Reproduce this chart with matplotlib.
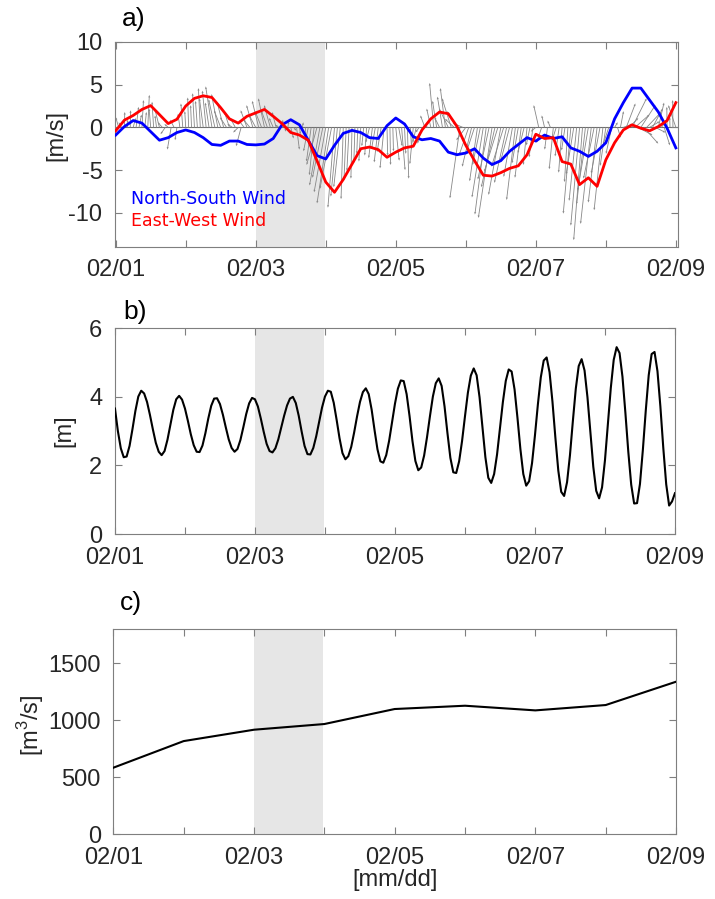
import numpy as np
import matplotlib
matplotlib.use("Agg")
import matplotlib.pyplot as plt

plt.rcParams["font.family"] = ["Liberation Sans", "DejaVu Sans"]
plt.rcParams["axes.unicode_minus"] = False

# ---------------------------------------------------------------------------
# data (day offsets from 02/01 00:00)
# ---------------------------------------------------------------------------
day_ticks = [0, 1, 2, 3, 4, 5, 6, 7, 8]
day_labels = ["02/01", "", "02/03", "", "02/05", "", "02/07", "", "02/09"]
event_span = (2.0, 2.985)

# smoothed wind, every 3 h [m/s]
wind_ew = [-0.4, 0.85, 1.4, 2.1, 2.55, 1.5, 0.45, 0.95,
           2.5, 3.4, 3.7, 3.5, 2.3, 1.0, 0.5, 1.3,
           1.7, 2.1, 1.3, 0.45, -0.6, -0.9, -1.5, -3.9,
           -6.4, -7.6, -6.1, -4.3, -2.5, -2.3, -2.6, -3.5,
           -2.9, -2.4, -2.2, -0.3, 1.0, 1.8, 1.6, 0.1,
           -2.1, -3.9, -5.6, -5.7, -5.3, -4.8, -4.5, -3.2,
           -0.8, -1.3, -1.2, -4.0, -4.3, -6.7, -5.9, -6.9,
           -3.8, -1.8, -0.3, 0.3, -0.1, -0.4, 0.1, 0.8, 2.9]
wind_ns = [-0.9, 0.1, 0.8, 0.5, -0.5, -1.5, -1.2, -0.6,
           -0.3, -0.6, -1.2, -2.0, -2.1, -1.6, -1.6, -2.0,
           -2.05, -1.95, -1.3, 0.3, 0.9, 0.3, -1.5, -3.3,
           -3.7, -2.1, -0.7, -0.35, -0.6, -1.2, -1.3, 0.2,
           1.1, 0.4, -1.1, -1.45, -1.3, -1.6, -2.9, -3.2,
           -3.0, -2.5, -3.6, -4.35, -3.9, -2.8, -2.0, -1.2,
           -1.6, -0.9, -1.3, -1.1, -2.4, -2.8, -3.4, -2.8,
           -1.8, 1.0, 2.9, 4.6, 4.6, 3.2, 1.8, -0.1, -2.4]

# hourly wind sticks (vertical component) [m/s]
stick_v = [0.3, 1.2, 0.6, 1.8, 0.9, 2.0, 1.1, 2.4, 1.5, 3.2, 1.8, 3.8,
           2.2, 3.0, 1.4, 2.2, 0.6, -0.8, 0.4, -2.6, 0.9, -1.5, 1.6, 2.8,
           1.9, 3.5, 2.6, 4.0, 3.1, 4.6, 3.4, 4.3, 2.9, 4.8, 3.3, 3.9,
           2.0, 3.0, 1.2, 1.8, 0.4, 1.1, -0.6, -2.2, 0.8, 2.0, 0.9, 2.6,
           1.4, 3.1, 1.9, 3.4, 2.0, 2.6, 1.1, 1.8, 0.3, 0.9, -0.5, 0.7,
           -1.3, -0.4, -2.6, -0.8, 0.6, -1.4, -2.8, -4.0, -5.6, -4.4, -6.8, -5.9,
           -7.6, -8.9, -7.2, -9.4, -8.1, -7.0, -8.4, -6.2, -5.1, -6.0, -4.2, -3.1,
           -4.0, -2.2, -3.3, -1.8, -3.6, -2.5, -4.1, -2.9, -4.8, -3.3, -4.4, -2.8,
           -3.9, -2.2, -5.0, -3.1, -6.0, -2.6, -4.3, -1.8, -0.6, -1.9, 1.4, 0.3,
           2.2, 5.2, 3.1, 1.2, 3.6, 4.6, 2.2, 3.4, 1.0, 1.9, -8.3, 0.5,
           -1.5, -3.2, -4.6, -2.8, -6.3, -4.4, -8.2, -10.2, -6.1, -10.6, -7.0, -5.2,
           -7.9, -4.6, -6.5, -3.9, -5.8, -8.5, -4.2, -5.9, -3.0, -4.4, -2.1, -3.5,
           -0.5, 2.6, -1.8, 1.4, -2.6, 0.8, -4.9, -1.5, -3.4, -5.3, -2.7, -6.4,
           -10.1, -5.5, -8.6, -11.5, -13.2, -9.0, -7.4, -11.3, -6.0, -8.8, -5.4, -9.7,
           -4.5, -2.0, -3.1, 0.6, -1.2, 1.9, 0.4, 2.8, 1.1, 3.4, 1.5, -0.9,
           2.6, -1.9, 1.8, 0.7, 2.2, -0.6, 2.9, 0.8, -2.1, 2.4, 1.2, 3.2, 2.6]

# hourly water level [m]
water_level = [3.66, 3.00, 2.50, 2.24, 2.26, 2.57, 3.06, 3.59, 4.01, 4.18,
               4.10, 3.85, 3.47, 3.05, 2.66, 2.40, 2.30, 2.42, 2.75, 3.19,
               3.62, 3.93, 4.03, 3.92, 3.66, 3.30, 2.91, 2.59, 2.40, 2.39,
               2.58, 2.94, 3.37, 3.74, 3.95, 3.96, 3.79, 3.48, 3.11, 2.76,
               2.51, 2.40, 2.48, 2.74, 3.11, 3.50, 3.81, 3.97, 3.93, 3.72,
               3.37, 2.98, 2.63, 2.42, 2.38, 2.50, 2.76, 3.10, 3.45, 3.75,
               3.95, 4.00, 3.82, 3.45, 2.99, 2.57, 2.33, 2.32, 2.51, 2.85,
               3.27, 3.69, 4.01, 4.18, 4.15, 3.83, 3.33, 2.79, 2.36, 2.18,
               2.27, 2.54, 2.96, 3.43, 3.85, 4.14, 4.25, 4.08, 3.63, 3.03,
               2.47, 2.12, 2.08, 2.30, 2.72, 3.26, 3.80, 4.24, 4.48, 4.46,
               4.08, 3.44, 2.71, 2.13, 1.86, 1.94, 2.29, 2.83, 3.44, 4.01,
               4.40, 4.54, 4.32, 3.72, 2.94, 2.22, 1.80, 1.78, 2.12, 2.71,
               3.43, 4.12, 4.62, 4.83, 4.63, 3.99, 3.11, 2.24, 1.64, 1.49,
               1.75, 2.32, 3.08, 3.85, 4.47, 4.80, 4.74, 4.22, 3.39, 2.48,
               1.75, 1.41, 1.54, 2.07, 2.88, 3.78, 4.57, 5.06, 5.15, 4.72,
               3.86, 2.81, 1.85, 1.23, 1.11, 1.51, 2.30, 3.30, 4.24, 4.90,
               5.10, 4.77, 3.99, 2.96, 1.96, 1.26, 1.04, 1.36, 2.15, 3.19,
               4.26, 5.08, 5.45, 5.28, 4.59, 3.54, 2.40, 1.44, 0.89, 0.90,
               1.46, 2.46, 3.61, 4.63, 5.25, 5.31, 4.75, 3.72, 2.51, 1.45,
               0.83, 0.95, 1.19]

# daily river discharge [m3/s]
discharge_days = [0, 1, 2, 3, 4, 5, 6, 7, 8]
discharge = [583, 817, 917, 967, 1099, 1128, 1087, 1134, 1339]

t_wind = np.arange(len(wind_ew)) / 8.0
t_stick = np.arange(len(stick_v)) / 24.0
t_level = np.arange(len(water_level)) / 24.0

AX_GRAY = "#7f7f7f"
TXT = "#262626"
FS = 17


def style_axes(ax, yticks, ylim, xlim):
    ax.set_xlim(*xlim)
    ax.set_ylim(*ylim)
    ax.set_xticks(day_ticks)
    ax.set_xticklabels(day_labels)
    ax.set_yticks(yticks)
    ax.tick_params(direction="in", top=True, right=True, length=5, width=0.8,
                   color=AX_GRAY, labelcolor=TXT, labelsize=FS)
    ax.tick_params(axis="x", pad=9)
    ax.tick_params(axis="y", pad=9)
    for s in ax.spines.values():
        s.set_color(AX_GRAY)
        s.set_linewidth(0.8)
    ax.axvspan(*event_span, color="#e6e6e6", lw=0, zorder=0)


fig = plt.figure(figsize=(7.15, 8.99), dpi=100)

# ---------------------------------------------------------------------------
# a) wind
# ---------------------------------------------------------------------------
ax1 = fig.add_axes([0.1608, 0.7253, 0.7874, 0.228])
style_axes(ax1, [-10, -5, 0, 5, 10], (-14, 10), (-0.01, 8.03))
ax1.axhline(0, color="#6f6f6f", lw=0.8, zorder=1)
stick_dx = [0.045 * wind_ns[i // 3] for i in range(len(stick_v))]
ax1.quiver(t_stick, np.zeros(len(stick_v)), stick_dx, stick_v,
           angles="xy", scale_units="xy", scale=1, color="#888888",
           width=0.0015, headwidth=2.5, headlength=3, headaxislength=2.8,
           minlength=0, zorder=2)
ax1.plot(t_wind, wind_ns, color="#0000ff", lw=2.0, zorder=3)
ax1.plot(t_wind, wind_ew, color="#ff0000", lw=2.0, zorder=4)
ax1.text(0.224, -8.4, "North-South Wind", color="#0000ff", fontsize=12.5,
         family="DejaVu Sans", va="center")
ax1.text(0.224, -11.0, "East-West Wind", color="#ff0000", fontsize=12.5,
         family="DejaVu Sans", va="center")
ax1.set_ylabel("[m/s]", fontsize=FS, color=TXT)
ax1.yaxis.set_label_coords(-0.085, 0.546)

# ---------------------------------------------------------------------------
# b) water level
# ---------------------------------------------------------------------------
ax2 = fig.add_axes([0.1608, 0.406, 0.7832, 0.2288])
style_axes(ax2, [0, 2, 4, 6], (0, 6), (0, 8))
ax2.plot(t_level, water_level, color="black", lw=1.5, zorder=3)
ax2.set_ylabel("[m]", fontsize=FS, color=TXT)
ax2.yaxis.set_label_coords(-0.071, 0.5)

# ---------------------------------------------------------------------------
# c) discharge
# ---------------------------------------------------------------------------
ax3 = fig.add_axes([0.1585, 0.0723, 0.787, 0.2277])
style_axes(ax3, [0, 500, 1000, 1500], (0, 1800), (0, 8))
ax3.plot(discharge_days, discharge, color="black", lw=1.5, zorder=3)
ax3.set_ylabel(r"[m$^{\mathregular{3}}$/s]", fontsize=FS, color=TXT)
ax3.yaxis.set_label_coords(-0.119, 0.532)
ax3.set_xlabel("[mm/dd]", fontsize=FS, color=TXT, labelpad=0)

for lab, x, y in [("a)", 122, 19), ("b)", 123, 312), ("c)", 120, 603)]:
    fig.text(x / 715, 1 - y / 899, lab, fontsize=19, color="black", va="center")

fig.savefig("out.png", dpi=100)
